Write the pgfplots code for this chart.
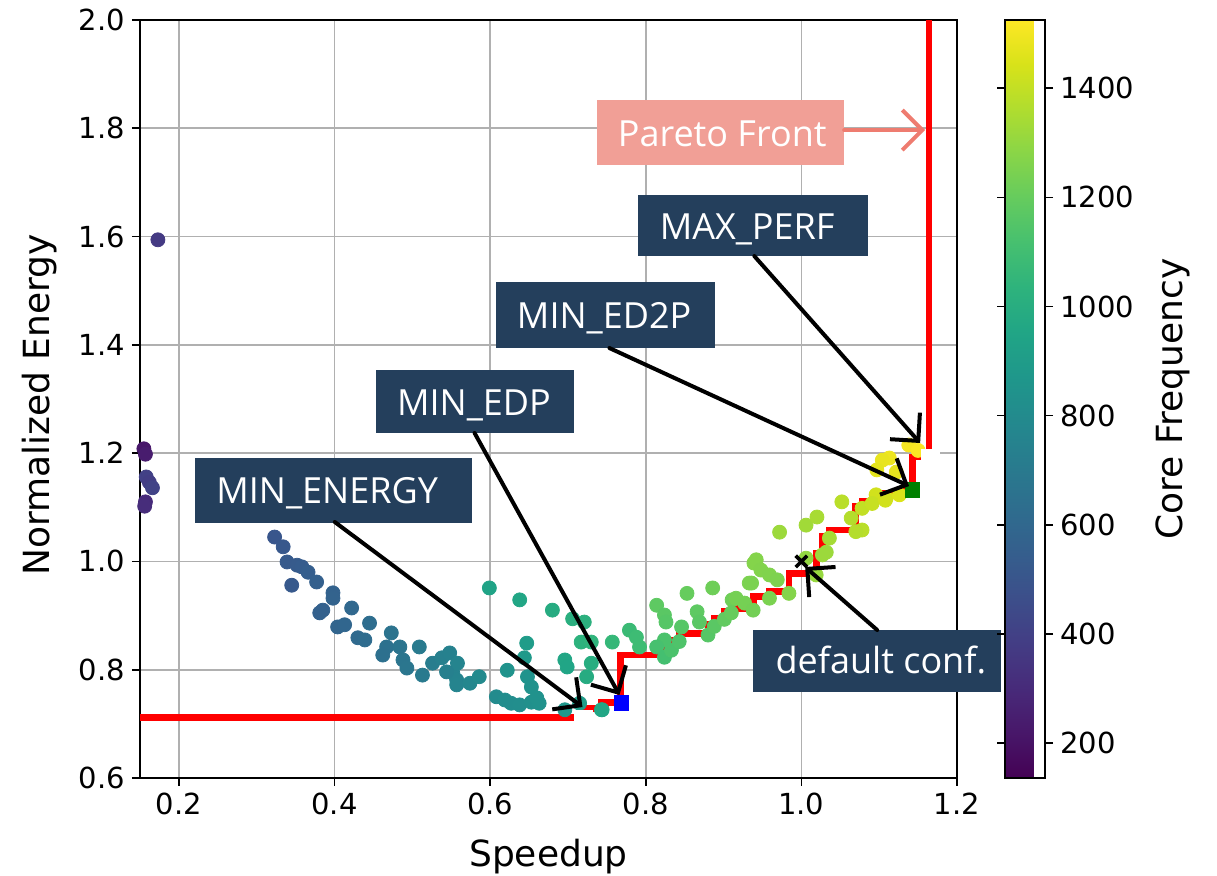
\documentclass[border=0pt]{standalone}
\usepackage{pgfplots}
\usepackage{pgfplotstable}
\pgfplotsset{compat=1.18}
\usepackage{fontspec}
\setmainfont{DejaVu Sans}
\newfontfamily\annfont{Open Sans}
\usetikzlibrary{arrows.meta}
\definecolor{navybox}{HTML}{243F5C}
\definecolor{salmonbox}{HTML}{F19F96}
\definecolor{salmonarrow}{HTML}{EE7C70}
\definecolor{gridgray}{HTML}{B0B0B0}
\definecolor{mplgreen}{HTML}{008000}

\pgfplotstableread{
x y f
0.173 1.594 370
0.155 1.208 220
0.157 1.198 240
0.158 1.156 400
0.162 1.146 390
0.166 1.136 410
0.157 1.110 300
0.156 1.102 310
0.323 1.045 505
0.334 1.027 515
0.339 0.999 525
0.352 0.993 530
0.358 0.990 535
0.366 0.980 545
0.377 0.962 555
0.345 0.956 520
0.398 0.942 570
0.398 0.932 575
0.385 0.910 560
0.381 0.905 560
0.422 0.914 600
0.404 0.879 585
0.413 0.883 590
0.445 0.886 630
0.430 0.859 610
0.439 0.855 620
0.473 0.868 660
0.467 0.842 650
0.462 0.827 645
0.484 0.842 670
0.509 0.842 700
0.488 0.818 675
0.493 0.803 680
0.513 0.790 705
0.526 0.812 720
0.538 0.822 735
0.548 0.831 745
0.552 0.794 750
0.557 0.781 755
0.558 0.812 760
0.557 0.772 760
0.574 0.775 780
0.586 0.787 795
0.544 0.796 740
0.599 0.951 940
0.638 0.929 960
0.680 0.910 990
0.706 0.894 1010
0.721 0.888 1020
0.647 0.849 900
0.717 0.851 1030
0.730 0.851 1040
0.757 0.851 1060
0.644 0.822 880
0.696 0.818 960
0.699 0.805 950
0.730 0.812 1000
0.622 0.799 850
0.648 0.787 850
0.724 0.787 990
0.653 0.768 840
0.608 0.750 800
0.619 0.744 810
0.627 0.738 815
0.638 0.735 820
0.653 0.740 830
0.663 0.738 840
0.660 0.748 840
0.696 0.726 870
0.715 0.738 900
0.744 0.726 960
0.779 0.873 1080
0.788 0.860 1090
0.792 0.842 1090
0.814 0.919 1180
0.824 0.901 1170
0.826 0.888 1160
0.824 0.855 1130
0.814 0.842 1120
0.846 0.879 1160
0.853 0.941 1200
0.866 0.907 1180
0.869 0.888 1170
0.886 0.951 1220
0.911 0.929 1220
0.933 0.960 1250
0.939 0.997 1270
0.824 0.823 1110
0.972 1.054 1320
1.006 1.067 1330
1.020 1.082 1345
1.052 1.110 1380
1.064 1.080 1370
0.942 1.003 1270
0.948 0.984 1265
0.959 0.975 1260
0.969 0.966 1255
0.936 0.960 1250
0.916 0.932 1235
0.927 0.923 1235
1.006 1.006 1300
1.032 1.017 1320
1.078 1.058 1380
1.096 1.123 1430
1.109 1.117 1440
1.113 1.191 1490
1.104 1.187 1480
1.097 1.169 1470
1.122 1.165 1480
1.138 1.215 1510
1.150 1.205 1520
0.833 0.836 1130
0.843 0.852 1140
0.880 0.864 1160
0.888 0.880 1170
0.901 0.893 1190
0.910 0.905 1200
0.938 0.910 1230
0.959 0.932 1250
0.984 0.941 1270
1.019 0.975 1310
1.027 1.012 1320
1.036 1.043 1340
1.070 1.055 1370
1.078 1.098 1400
1.091 1.107 1410
1.108 1.113 1430
1.126 1.123 1450
0.743 0.726 960
}\scatterdata

\pgfplotstableread{
x y
0.150 0.711
0.721 0.711
0.721 0.729
0.743 0.729
0.743 0.739
0.768 0.739
0.768 0.827
0.822 0.827
0.822 0.839
0.833 0.839
0.833 0.855
0.843 0.855
0.843 0.867
0.880 0.867
0.880 0.883
0.888 0.883
0.888 0.895
0.901 0.895
0.901 0.907
0.910 0.907
0.910 0.913
0.938 0.913
0.938 0.935
0.959 0.935
0.959 0.944
0.984 0.944
0.984 0.978
1.019 0.978
1.019 1.015
1.027 1.015
1.027 1.046
1.036 1.046
1.036 1.058
1.070 1.058
1.070 1.101
1.078 1.101
1.078 1.110
1.091 1.110
1.091 1.116
1.108 1.116
1.108 1.126
1.126 1.126
1.126 1.132
1.143 1.132
1.143 1.193
1.151 1.193
1.151 1.200
1.164 1.200
1.164 2.000
}\paretodata

\begin{document}
\begin{tikzpicture}
\begin{axis}[
  at={(0,0)}, anchor=south west,
  width=408.5pt, height=379pt, scale only axis,
  xmin=0.15, xmax=1.2, ymin=0.6, ymax=2.0,
  enlargelimits=false,
  clip=false,
  xtick={0.2,0.4,0.6,0.8,1.0,1.2},
  xticklabels={0.2,0.4,0.6,0.8,1.0,1.2},
  ytick={0.6,0.8,1.0,1.2,1.4,1.6,1.8,2.0},
  yticklabels={0.6,0.8,1.0,1.2,1.4,1.6,1.8,2.0},
  xtick pos=bottom, ytick pos=left,
  tick label style={font=\fontsize{14.5}{17}\selectfont},
  grid=major,
  major grid style={gridgray, line width=0.8pt},
  axis line style={black, line width=0.8pt},
  tick style={black, line width=0.8pt},
  tick align=outside, major tick length=4pt,
  xlabel={Speedup},
  xlabel style={font=\fontsize{18}{20}\selectfont, at={(axis description cs:0.5,0)}, anchor=center, yshift=-39.5pt},
  ylabel={Normalized Energy},
  ylabel style={font=\fontsize{18}{20}\selectfont, at={(axis description cs:-0.1224,0.492)}, anchor=center},
  colormap name=viridis,
  point meta min=136, point meta max=1525,
  colorbar,
  colorbar style={
    at={(parent axis.north east)}, anchor=north west, xshift=15.5pt,
    width=20pt, scale only axis,
    ytick={200,400,600,800,1000,1200,1400},
    yticklabels={200,400,600,800,1000,1200,1400},
    yticklabel style={font=\fontsize{14.5}{17}\selectfont},
    ylabel={Core Frequency},
    ylabel style={font=\fontsize{18}{20}\selectfont, at={(axis description cs:4.2,0.5)}, anchor=center},
    axis line style={black, line width=0.8pt},
    tick style={black, line width=0.8pt},
    tick align=outside, major tick length=4pt,
  },
]
\addplot[scatter, only marks, mark=*, mark size=3.5pt,
  scatter/use mapped color={draw=mapped color, fill=mapped color},
  point meta=explicit] table[x=x, y=y, meta=f] {\scatterdata};

\addplot[red, line width=3.4pt, no marks, line join=miter] table[x=x, y=y] {\paretodata};

\addplot[only marks, mark=square*, mark size=4.5pt, mark options={fill=white, draw=white}] coordinates {(0.7195,0.7085) (1.166,1.190)};
\addplot[only marks, mark=square*, mark size=3.6pt, mark options={fill=blue, draw=blue}] coordinates {(0.7687,0.7385)};
\addplot[only marks, mark=square*, mark size=3.6pt, mark options={fill=mplgreen, draw=mplgreen}] coordinates {(1.1423,1.1318)};
\addplot[only marks, mark=x, mark size=4pt, mark options={black, line width=1.8pt}] coordinates {(1.0,1.0)};

% annotation boxes
\fill[navybox] (axis cs:0.2206,1.0709) rectangle (axis cs:0.5762,1.1910);
\node[anchor=base west, inner sep=0pt, text=white, font=\annfont\fontsize{18}{20}\selectfont] at (axis cs:0.2476,1.1078) {MIN\_ENERGY};
\fill[navybox] (axis cs:0.4530,1.2371) rectangle (axis cs:0.7084,1.3535);
\node[anchor=base west, inner sep=0pt, text=white, font=\annfont\fontsize{18}{20}\selectfont] at (axis cs:0.4799,1.2704) {MIN\_EDP};
\fill[navybox] (axis cs:0.6070,1.3941) rectangle (axis cs:0.8894,1.5160);
\node[anchor=base west, inner sep=0pt, text=white, font=\annfont\fontsize{18}{20}\selectfont] at (axis cs:0.6340,1.4310) {MIN\_ED2P};
\fill[navybox] (axis cs:0.7906,1.5640) rectangle (axis cs:1.0858,1.6766);
\node[anchor=base west, inner sep=0pt, text=white, font=\annfont\fontsize{18}{20}\selectfont] at (axis cs:0.8175,1.5954) {MAX\_PERF};
\fill[salmonbox] (axis cs:0.7379,1.7320) rectangle (axis cs:1.0550,1.8521);
\node[anchor=base west, inner sep=0pt, text=white, font=\annfont\fontsize{18}{20}\selectfont] at (axis cs:0.7636,1.7671) {Pareto Front};
\fill[navybox] (axis cs:0.9382,0.7588) rectangle (axis cs:1.2566,0.8733);
\node[anchor=base west, inner sep=0pt, text=white, font=\annfont\fontsize{18}{20}\selectfont] at (axis cs:0.9664,0.7921) {default conf.};

\coordinate (a1s) at (axis cs:0.4003,1.0728); \coordinate (a1e) at (axis cs:0.7187,0.7311);
\coordinate (a2s) at (axis cs:0.5800,1.2371); \coordinate (a2e) at (axis cs:0.7662,0.7533);
\coordinate (a3s) at (axis cs:0.7533,1.3941); \coordinate (a3e) at (axis cs:1.1384,1.1392);
\coordinate (a4s) at (axis cs:0.9395,1.5640); \coordinate (a4e) at (axis cs:1.1526,1.2187);
\coordinate (a5s) at (axis cs:1.0974,0.8733); \coordinate (a5e) at (axis cs:1.0049,0.9897);
\coordinate (a6s) at (axis cs:1.0550,1.7967); \coordinate (a6e) at (axis cs:1.1590,1.7967);
\end{axis}
\tikzset{annarrow/.style={line width=2pt, line cap=round, -{Straight Barb[length=10pt,width=20pt,line width=2pt]}}}
\draw[black, annarrow] (a1s) -- (a1e);
\draw[black, annarrow] (a2s) -- (a2e);
\draw[black, annarrow] (a3s) -- (a3e);
\draw[black, annarrow] (a4s) -- (a4e);
\draw[black, annarrow] (a5s) -- (a5e);
\draw[salmonarrow, annarrow] (a6s) -- (a6e);
\pgfresetboundingbox
\useasboundingbox (-70pt,-49pt) rectangle (538.5pt,389pt);
\end{tikzpicture}
\end{document}
